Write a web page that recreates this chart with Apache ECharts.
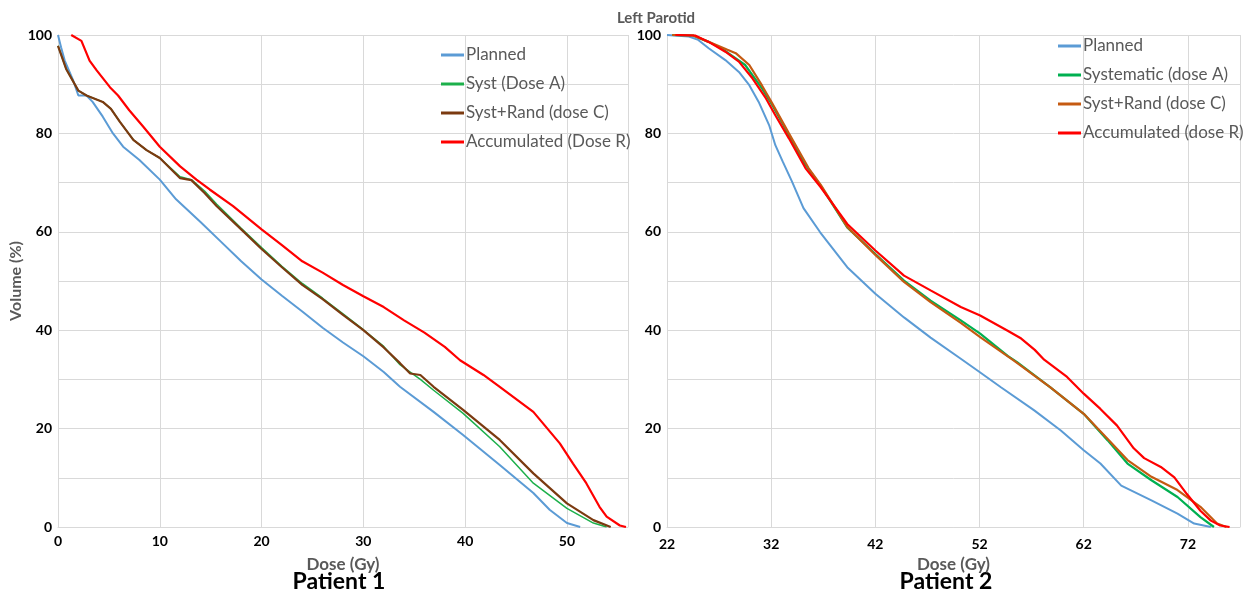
<!DOCTYPE html>
<html>
<head>
<meta charset="utf-8">
<script src="https://cdn.jsdelivr.net/npm/echarts@6/dist/echarts.min.js"></script>
<style>
html,body{margin:0;padding:0;background:#fff;}
#chart{width:1257px;height:593px;}
</style>
</head>
<body>
<div id="chart"></div>
<script>
// ---------- Data (Patient 1) ----------
var p1PlannedDose = [0, 0.3, 0.66, 1.5, 2, 2.8, 3.4, 4.4, 5.4, 6.4, 8, 10, 11.6, 14, 16, 18, 20, 22, 24, 26, 28, 30, 32, 33.6, 36.9, 39.8, 43.4, 46.7, 48.3, 50, 51.3];
var p1PlannedVol  = [100, 97.5, 94.8, 90.7, 87.7, 87.7, 86.4, 83.4, 80, 77.3, 74.6, 70.6, 66.6, 62, 58, 54, 50.3, 47, 43.8, 40.5, 37.5, 34.7, 31.5, 28.5, 23.4, 18.7, 12.6, 6.9, 3.5, 0.8, 0];

var p1SystDose = [0, 0.8, 2, 2.8, 4.4, 5.2, 6.1, 7.4, 8.7, 10, 12, 13.1, 14.4, 15.6, 18, 20, 22, 24, 26, 28, 30, 32, 33.6, 34.6, 35.6, 36.9, 39.8, 43.4, 46.7, 50, 52.6, 53.9];
var p1SystVol  = [97.8, 93.1, 88.7, 87.7, 86.4, 85, 82.3, 78.7, 76.6, 75, 71.2, 70.6, 68.3, 65.6, 60.7, 56.8, 53, 49.5, 46.5, 43.3, 40.1, 36.7, 33, 31.5, 30, 27.8, 23.1, 16.3, 8.9, 3.8, 0.8, 0];

var p1RandDose = [0, 0.8, 2, 2.8, 4.4, 5.2, 6.1, 7.4, 8.7, 10, 12, 13.1, 14.4, 15.6, 18, 20, 22, 24, 26, 28, 30, 32, 33.6, 34.6, 35.6, 36.9, 39.8, 43.4, 46.7, 50, 52.6, 54.3];
var p1RandVol  = [97.8, 93.1, 88.7, 87.7, 86.4, 85, 82.3, 78.7, 76.6, 75, 70.9, 70.5, 67.9, 65.2, 60.5, 56.5, 52.8, 49.2, 46.3, 43.1, 40, 36.5, 33.3, 31.2, 30.9, 28.5, 23.8, 17.7, 10.9, 4.8, 1.4, 0];

var p1AccumDose = [1.3, 2.3, 3.1, 3.8, 5.1, 5.9, 7, 8.4, 10, 12, 13.6, 14.9, 17.2, 20, 22, 24, 26, 28, 30, 32, 34, 36, 38, 39.5, 41.8, 43.4, 46.7, 49.3, 50.6, 51.9, 53.2, 53.9, 55.2, 55.8];
var p1AccumVol  = [100, 98.8, 94.8, 92.8, 89.4, 87.7, 84.7, 81.3, 77.3, 73.3, 70.6, 68.6, 65.2, 60.5, 57.3, 54, 51.7, 49.2, 46.9, 44.7, 42, 39.5, 36.6, 33.9, 30.9, 28.5, 23.4, 17, 12.9, 8.9, 4.1, 2.1, 0.3, 0];

// ---------- Data (Patient 2) ----------
var p2PlannedDose = [22, 24.1, 25, 26, 27.6, 28.9, 29.9, 30.8, 31.8, 32.4, 33.1, 34, 35.1, 36.7, 39.3, 42, 44.75, 47.3, 50.2, 52, 54.05, 57.25, 59.8, 62, 63.6, 65.6, 68.5, 71, 72.6, 74.2];
var p2PlannedVol  = [100, 99.7, 99, 97.3, 94.9, 92.5, 89.8, 86.4, 81.7, 77.6, 74.3, 70.2, 64.8, 59.9, 52.8, 47.4, 42.6, 38.5, 34.2, 31.5, 28.4, 23.7, 19.6, 15.6, 12.9, 8.4, 5.4, 2.7, 0.7, 0];

var p2SystDose = [22.5, 24.5, 26, 27.3, 29.5, 31.1, 32.1, 33.7, 35.3, 36.74, 39.3, 42, 44.75, 47.3, 50.2, 52.06, 54.7, 55.6, 58.8, 62, 64.3, 66.2, 68.5, 71, 73.2, 74.5];
var p2SystVol  = [100, 99.9, 98.6, 97.2, 93.9, 89.2, 85.8, 79.7, 73.6, 69.4, 60.9, 55.5, 50.1, 46, 42, 39.3, 34.8, 33.5, 28.4, 23, 17.6, 12.9, 9.5, 6.1, 2, 0];

var p2RandDose = [22.5, 24.5, 26, 27.8, 28.6, 29.9, 31.1, 32.1, 33.7, 35.6, 36.74, 39.3, 42, 44.75, 47.3, 50.2, 52.06, 55.3, 58.8, 62, 64.3, 66.2, 68.5, 71, 73.2, 74.8, 75.7];
var p2RandVol  = [100, 99.9, 98.6, 97, 96.3, 93.9, 89.8, 86.1, 80, 72.9, 69.6, 61, 55.3, 49.8, 45.7, 41.5, 38.6, 33.8, 28.4, 23, 17.9, 13.6, 10.2, 7.5, 4.1, 0.7, 0];

var p2AccumDose = [22.8, 24.7, 26, 27.6, 28.9, 30.2, 31.5, 32.4, 33.7, 35.3, 36.74, 39.3, 42, 44.75, 47.3, 50.2, 52.06, 54.7, 56, 57.3, 58.2, 60.4, 62, 63.6, 65.2, 66.8, 67.8, 69.4, 70.7, 71.9, 73.2, 74.2, 75.1, 76];
var p2AccumVol  = [100, 99.9, 98.6, 96.6, 94.6, 91.2, 87.1, 83.7, 79, 72.9, 69.1, 61.6, 56.2, 51.1, 48.1, 44.7, 43, 39.9, 38.3, 36, 34, 30.5, 27.1, 24, 20.6, 16, 14, 12.2, 10.1, 6.7, 3.3, 1.3, 0.3, 0];

// ---------- Labels ----------
var chartTitle = 'Left Parotid';
var yAxisName = 'Volume (%)';
var xAxisName = 'Dose (Gy)';
var panelNames = ['Patient 1', 'Patient 2'];
var p1Names = ['Planned', 'Syst (Dose A)', 'Syst+Rand (dose C)', 'Accumulated (Dose R)'];
var p2Names = ['Planned ', 'Systematic (dose A)', 'Syst+Rand (dose C) ', 'Accumulated (dose R)'];
var p1Colors = ['#5B9BD5', '#1DB04B', '#7B3A10', '#FF0000'];
var p2Colors = ['#5B9BD5', '#00B050', '#C55A11', '#FF0000'];
var p1Widths = [2, 1.5, 2.2, 2.2];
var p2Widths = [2, 2.2, 2.2, 2.2];
var p2Offset = 22; // right axis starts at 22 Gy

function pairs(d, v, off) {
  return d.map(function (x, i) { return [x - (off || 0), v[i]]; });
}

var chart = echarts.init(document.getElementById('chart'), null, { renderer: 'canvas' });

var font = 'Lato, "Open Sans", sans-serif';
var gridColor = '#D9D9D9';

function yAxis(gridIndex, withName) {
  return {
    type: 'value', gridIndex: gridIndex, min: 0, max: 100, interval: 10,
    name: withName ? yAxisName : '',
    nameLocation: 'middle', nameGap: 32,
    nameTextStyle: { color: '#595959', fontSize: 16, fontWeight: 'bold', fontFamily: font },
    axisLine: { show: true, lineStyle: { color: gridColor, width: 1 } },
    axisTick: { show: false },
    splitLine: { show: true, lineStyle: { color: gridColor, width: 1 } },
    axisLabel: {
      color: '#000', fontSize: 14, fontWeight: 'bold', fontFamily: font, margin: 6,
      formatter: function (v) { return v % 20 === 0 ? String(v) : ''; }
    }
  };
}

var s1 = [[p1PlannedDose, p1PlannedVol], [p1SystDose, p1SystVol], [p1RandDose, p1RandVol], [p1AccumDose, p1AccumVol]];
var s2 = [[p2PlannedDose, p2PlannedVol], [p2SystDose, p2SystVol], [p2RandDose, p2RandVol], [p2AccumDose, p2AccumVol]];
var series = [];
s1.forEach(function (s, i) {
  series.push({
    type: 'line', name: p1Names[i], xAxisIndex: 0, yAxisIndex: 0,
    data: pairs(s[0], s[1], 0), showSymbol: false, symbol: 'none',
    color: p1Colors[i], lineStyle: { color: p1Colors[i], width: p1Widths[i] }, z: 2 + i
  });
});
s2.forEach(function (s, i) {
  series.push({
    type: 'line', name: p2Names[i], xAxisIndex: 1, yAxisIndex: 1,
    data: pairs(s[0], s[1], p2Offset), showSymbol: false, symbol: 'none',
    color: p2Colors[i], lineStyle: { color: p2Colors[i], width: p2Widths[i] }, z: 2 + i
  });
});

function legend(left, top, names) {
  return {
    orient: 'vertical', left: left, top: top, data: names,
    icon: 'rect', itemWidth: 23, itemHeight: 3, itemGap: 11,
    textStyle: { color: '#595959', fontSize: 17, lineHeight: 18, fontFamily: font, padding: [0, 0, 0, -3] },
    selectedMode: false
  };
}

var option = {
  animation: false,
  backgroundColor: '#fff',
  grid: [
    { left: 58, top: 35, width: 570, height: 492 },
    { left: 667, top: 35, width: 573, height: 492 }
  ],
  xAxis: [
    {
      type: 'value', gridIndex: 0, min: 0, max: 56, interval: 10,
      name: xAxisName, nameLocation: 'middle', nameGap: 29,
      nameTextStyle: { color: '#595959', fontSize: 17, fontWeight: 'bold', fontFamily: font },
      axisLine: { show: true, lineStyle: { color: gridColor } },
      axisTick: { show: false },
      splitLine: { show: true, lineStyle: { color: gridColor } },
      axisLabel: { color: '#000', fontSize: 14, fontWeight: 'bold', fontFamily: font, margin: 7, showMaxLabel: false }
    },
    {
      type: 'value', gridIndex: 1, min: 0, max: 55, interval: 10,
      name: xAxisName, nameLocation: 'middle', nameGap: 29,
      nameTextStyle: { color: '#595959', fontSize: 17, fontWeight: 'bold', fontFamily: font },
      axisLine: { show: true, lineStyle: { color: gridColor } },
      axisTick: { show: false },
      splitLine: { show: true, lineStyle: { color: gridColor } },
      axisLabel: {
        color: '#000', fontSize: 14, fontWeight: 'bold', fontFamily: font, margin: 10, showMaxLabel: false,
        formatter: function (v) { return String(v + p2Offset); }
      }
    }
  ],
  yAxis: [yAxis(0, true), yAxis(1, false)],
  legend: [legend(436, 41, p1Names), legend(1053, 32, p2Names)],
  graphic: [
    { type: 'text', style: { text: chartTitle, x: 656, y: 18, textAlign: 'center', textVerticalAlign: 'middle', fill: '#595959', font: 'bold 15px ' + font } },
    { type: 'text', style: { text: panelNames[0], x: 339, y: 582, textAlign: 'center', textVerticalAlign: 'middle', fill: '#000', font: 'bold 23px ' + font } },
    { type: 'text', style: { text: panelNames[1], x: 946, y: 582, textAlign: 'center', textVerticalAlign: 'middle', fill: '#000', font: 'bold 23px ' + font } }
  ],
  series: series
};
chart.setOption(option);
</script>
</body>
</html>
